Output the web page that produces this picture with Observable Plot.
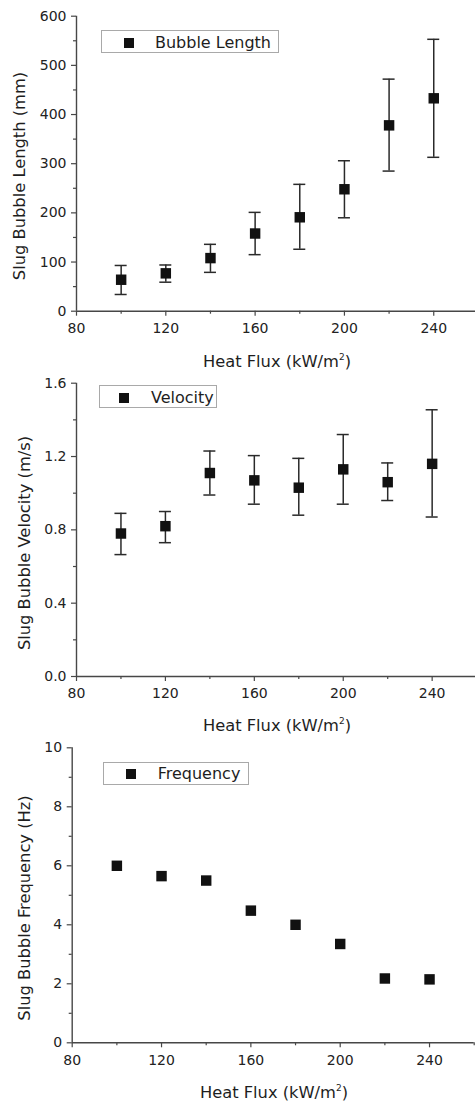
<!DOCTYPE html>
<html><head><meta charset="utf-8">
<script src="https://cdn.jsdelivr.net/npm/d3@7"></script>
<script src="https://cdn.jsdelivr.net/npm/@observablehq/plot@0.6"></script>
<style>
html,body{margin:0;padding:0;background:#fff;overflow:hidden}
#wrap{position:relative;width:475px;height:1107px;font-family:"DejaVu Sans",sans-serif;color:#1e1e1e}
.panel{position:absolute;left:0}
.xlab{position:absolute;transform:translate(-50%,-50%);font-size:16.3px;white-space:nowrap;line-height:1}
.ylab{position:absolute;transform:translate(-50%,-50%) rotate(-90deg);font-size:16.3px;white-space:nowrap;line-height:1}
sup{font-size:9px;vertical-align:7px;line-height:0}
.legend{position:absolute;border:1px solid #a9a9a9;background:#fff;box-sizing:border-box}
.legend .mk{position:absolute;width:10px;height:10px;background:#111}
.legend .tx{position:absolute;font-size:16px;line-height:1;white-space:nowrap;transform:translateY(-50%)}
</style>
</head><body>
<div id="wrap"></div>
<script>
// ---- data ----
const heatFlux = [100, 120, 140, 160, 180, 200, 220, 240];
const bubbleLength = [64, 77, 108, 158, 191, 248, 378, 433];
const bubbleLengthHi = [93, 94, 136, 201, 258, 306, 472, 553];
const bubbleLengthLo = [34, 59, 79, 115, 126, 190, 285, 313];
const velocity = [0.78, 0.82, 1.11, 1.07, 1.03, 1.13, 1.06, 1.16];
const velocityHi = [0.89, 0.90, 1.23, 1.205, 1.19, 1.32, 1.165, 1.455];
const velocityLo = [0.665, 0.73, 0.99, 0.94, 0.88, 0.94, 0.96, 0.87];
const frequency = [6.0, 5.65, 5.5, 4.48, 4.0, 3.35, 2.18, 2.15];
const xMajorTicks = [80, 120, 160, 200, 240];
const xMinorTicks = [100, 140, 180, 220, 260];
const lengthTicks = [0, 100, 200, 300, 400, 500, 600];
const lengthMinor = [50, 150, 250, 350, 450, 550];
const velocityTicks = [0, 0.4, 0.8, 1.2, 1.6];
const velocityMinor = [0.2, 0.6, 1.0, 1.4];
const frequencyTicks = [0, 2, 4, 6, 8, 10];
const frequencyMinor = [1, 3, 5, 7, 9];
const xTitle = 'Heat Flux (kW/m<sup>2</sup>)';

const wrap = document.getElementById("wrap");
const AXIS = "#474747";

function panel(o) {
  const rows = heatFlux.map((x, i) => ({x, y: o.y[i], hi: o.hi ? o.hi[i] : null, lo: o.lo ? o.lo[i] : null}));
  const marks = [
    Plot.ruleY([o.yDomain[0]], {stroke: AXIS, strokeWidth: 1.4}),
    Plot.ruleX([o.xDomain[0]], {stroke: AXIS, strokeWidth: 1.4}),
    Plot.axisX({ticks: xMajorTicks, tickSize: 5, tickPadding: 7, label: null, stroke: AXIS, fill: "#222", strokeWidth: 1.2}),
    Plot.axisX({ticks: xMinorTicks, tickSize: 3, label: null, stroke: AXIS, fill: "none", strokeWidth: 1.2}),
    Plot.axisY({ticks: o.yTicks, tickSize: 5, tickPadding: 5, label: null, tickFormat: o.fmt, stroke: AXIS, fill: "#222", strokeWidth: 1.2}),
    Plot.axisY({ticks: o.yMinor, tickSize: 3, label: null, stroke: AXIS, fill: "none", strokeWidth: 1.2})
  ];
  if (o.hi) {
    marks.push(
      Plot.ruleX(rows, {x: "x", y1: "lo", y2: "hi", stroke: "#2a2a2a", strokeWidth: 1.5}),
      Plot.ruleY(rows, {y: "hi", x1: "x", x2: "x", insetLeft: -6, insetRight: -6, stroke: "#2a2a2a", strokeWidth: 1.5}),
      Plot.ruleY(rows, {y: "lo", x1: "x", x2: "x", insetLeft: -6, insetRight: -6, stroke: "#2a2a2a", strokeWidth: 1.5})
    );
  }
  marks.push(Plot.dot(rows, {x: "x", y: "y", symbol: "square", r: 5.9, fill: "#111", stroke: "none"}));
  const svg = Plot.plot({
    width: 475, height: o.height,
    marginTop: o.mt, marginBottom: o.mb, marginLeft: o.ml, marginRight: o.mr,
    style: {fontFamily: '"DejaVu Sans", sans-serif', fontSize: "14px", background: "transparent", color: "#222", overflow: "visible"},
    x: {domain: o.xDomain},
    y: {domain: o.yDomain},
    marks
  });
  const d = document.createElement("div");
  d.className = "panel";
  d.style.top = o.top + "px";
  d.appendChild(svg);
  wrap.appendChild(d);

  const xl = document.createElement("div");
  xl.className = "xlab"; xl.innerHTML = xTitle;
  xl.style.left = o.xlab[0] + "px"; xl.style.top = o.xlab[1] + "px";
  wrap.appendChild(xl);
  const yl = document.createElement("div");
  yl.className = "ylab"; yl.textContent = o.ytitle;
  yl.style.left = o.ylab[0] + "px"; yl.style.top = o.ylab[1] + "px";
  wrap.appendChild(yl);

  const lg = document.createElement("div");
  lg.className = "legend";
  const [bx, by, bw, bh] = o.legend.box;
  lg.style.left = bx + "px"; lg.style.top = by + "px"; lg.style.width = bw + "px"; lg.style.height = bh + "px";
  const mk = document.createElement("div"); mk.className = "mk";
  mk.style.left = (o.legend.mk[0] - bx - 5) + "px"; mk.style.top = (o.legend.mk[1] - by - 5) + "px";
  const tx = document.createElement("div"); tx.className = "tx"; tx.textContent = o.legend.text;
  tx.style.left = (o.legend.tx - bx) + "px"; tx.style.top = (o.legend.mk[1] - by) + "px";
  lg.appendChild(mk); lg.appendChild(tx);
  wrap.appendChild(lg);
}

panel({
  top: 0, height: 368, mt: 15.7, mb: 57.3, ml: 76, mr: 0,
  xDomain: [80, 258.7], yDomain: [0, 600],
  y: bubbleLength, hi: bubbleLengthHi, lo: bubbleLengthLo,
  yTicks: lengthTicks, yMinor: lengthMinor, fmt: d3.format("d"),
  ytitle: "Slug Bubble Length (mm)", ylab: [20, 176], xlab: [277, 362],
  legend: {box: [100.7, 30, 178.3, 22.7], mk: [127.7, 41.7], tx: 154, text: "Bubble Length"}
});
panel({
  top: 368, height: 368, mt: 14.7, mb: 60, ml: 76, mr: 0,
  xDomain: [80, 259.5], yDomain: [0, 1.6],
  y: velocity, hi: velocityHi, lo: velocityLo,
  yTicks: velocityTicks, yMinor: velocityMinor, fmt: d3.format(".1f"),
  ytitle: "Slug Bubble Velocity (m/s)", ylab: [25, 542.5], xlab: [277, 726],
  legend: {box: [99.3, 385.3, 117.4, 23], mk: [123.3, 397.3], tx: 150, text: "Velocity"}
});
panel({
  top: 736, height: 371, mt: 11.3, mb: 64.7, ml: 71.7, mr: 1.3,
  xDomain: [80, 260], yDomain: [0, 10],
  y: frequency,
  yTicks: frequencyTicks, yMinor: frequencyMinor, fmt: d3.format("d"),
  ytitle: "Slug Bubble Frequency (Hz)", ylab: [25, 907.5], xlab: [274, 1093],
  legend: {box: [103.3, 762.3, 145.7, 22.7], mk: [130, 773.3], tx: 156.7, text: "Frequency"}
});
</script>
</body></html>
